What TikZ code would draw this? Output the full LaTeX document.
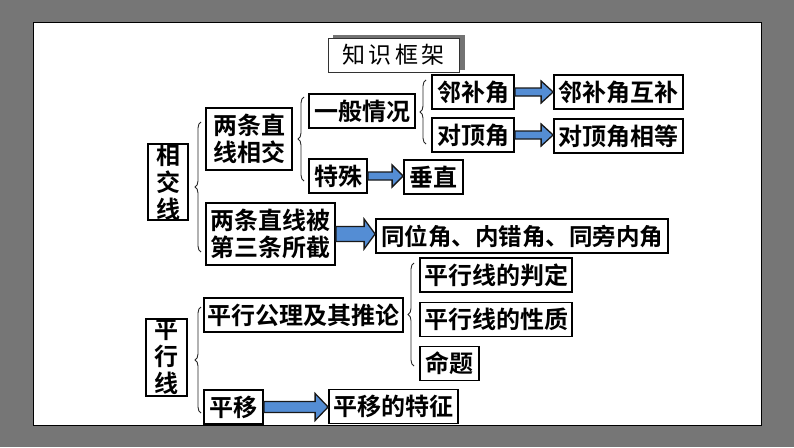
\documentclass[tikz,border=0pt]{standalone}
\usepackage{fontspec}
\usepackage{tikz}
\usetikzlibrary{calc,decorations.pathreplacing}
\newfontfamily\cjk{Noto Sans CJK SC}[BoldFont={Noto Sans CJK SC Bold}]
\newfontfamily\titlefont{Noto Sans CJK SC}[LetterSpace=14]
\definecolor{slidegray}{RGB}{118,118,118}
\definecolor{arrowblue}{RGB}{84,141,212}
\tikzset{
  box/.style={draw=black, line width=1.8pt, fill=white, inner sep=0pt,
    minimum height=34, align=center,
    font=\cjk\bfseries\fontsize{24}{28}\selectfont},
  tallbox/.style={box, font=\cjk\bfseries\fontsize{24}{27}\selectfont},
  curly/.style={draw=black!85, line width=0.9pt,
    decorate, decoration={brace, amplitude=6pt}}
}
% fat block arrow: from, to, shaft half height, head half height, head length
\newcommand{\fatarrow}[5]{%
  \filldraw[fill=arrowblue, draw=black!90, line width=1.3pt]
    let \p1=(#1.east), \p2=(#2.west) in
    (\x1,\y1+#3) -- (\x2-#5,\y1+#3) -- (\x2-#5,\y1+#4) -- (\x2,\y1)
    -- (\x2-#5,\y1-#4) -- (\x2-#5,\y1-#3) -- (\x1,\y1-#3) -- cycle;}

\begin{document}
\begin{tikzpicture}[x=1pt, y=-1pt]
% slide background
\fill[slidegray] (0,0) rectangle (794,447);
\useasboundingbox (0,0) rectangle (794,447);
\filldraw[fill=white, draw=black, line width=0.8pt] (33,22) rectangle (761,425);

% title
\fill[gray!90!black] (333,35) rectangle (465,70);
\node[draw=black!80, line width=1pt, fill=white, minimum width=131, minimum height=34,
  inner sep=0pt, font=\titlefont\fontsize{23}{27}\selectfont] (title) at (393.5,55) {知识框架};

% intersecting lines
\node[tallbox, minimum width=40, minimum height=76] (xjx) at (168,182) {相\\交\\线};
\node[tallbox, minimum width=86, minimum height=62] (lzx) at (249,139) {两条直\\线相交};
\node[box, minimum width=106] (ybqk) at (362,111) {一般情况};
\node[box, minimum width=82] (lbj) at (473,92) {邻补角};
\node[box, minimum width=82] (ddj) at (473,135) {对顶角};
\node[box, minimum width=129] (lbjhb) at (618.5,92) {邻补角互补};
\node[box, minimum width=129] (ddjxd) at (618.5,136) {对顶角相等};
\node[box, minimum width=58] (ts) at (338,176) {特殊};
\node[box, minimum width=59] (cz) at (433.5,177) {垂直};
\node[tallbox, minimum width=129, minimum height=62] (bjx) at (270.5,234) {两条直线被\\第三条所截};
\node[box, minimum width=292, font=\cjk\bfseries\fontsize{23.5}{28}\selectfont] (sxj) at (522,236) {同位角、内错角、同旁内角};

% parallel lines
\node[tallbox, minimum width=41, minimum height=77] (pxx) at (166.5,357.5) {平\\行\\线};
\node[box, minimum width=199] (gl) at (303.5,315) {平行公理及其推论};
\node[box, minimum width=152] (pd) at (496,275) {平行线的判定};
\node[box, minimum width=152] (xz) at (496,319.5) {平行线的性质};
\node[box, minimum width=59] (mt) at (449.5,363.5) {命题};
\node[box, minimum width=59] (py) at (233.5,407) {平移};
\node[box, minimum width=129] (tz) at (393.5,406.5) {平移的特征};

% braces
\draw[curly] (201,252) -- (201,122);
\draw[curly] (304,181) -- (304,97);
\draw[curly] (426,144) -- (426,80);
\draw[curly] (201,413) -- (201,307);
\draw[curly] (414,366) -- (414,263);

% arrows
\fatarrow{lbj}{lbjhb}{4pt}{11pt}{12pt}
\fatarrow{ddj}{ddjxd}{4pt}{11pt}{12pt}
\fatarrow{ts}{cz}{4pt}{11pt}{11pt}
\fatarrow{bjx}{sxj}{7.5pt}{15pt}{11pt}
\fatarrow{py}{tz}{5.5pt}{13.5pt}{13pt}
\end{tikzpicture}
\end{document}
